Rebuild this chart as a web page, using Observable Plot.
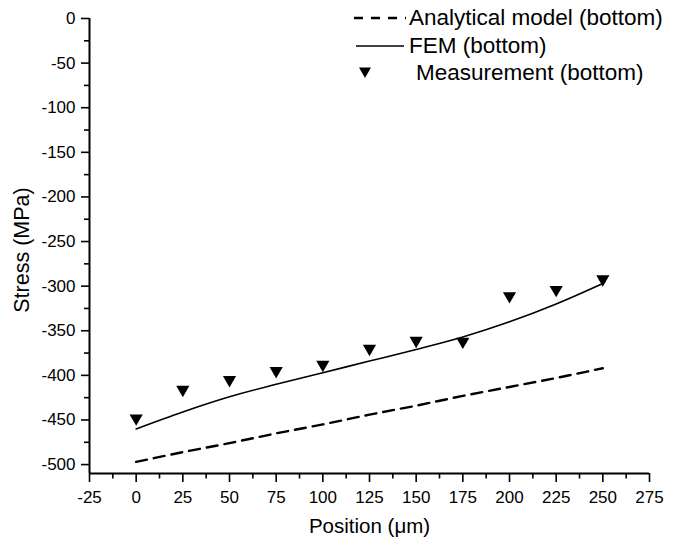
<!DOCTYPE html>
<html>
<head>
<meta charset="utf-8">
<script src="https://cdn.jsdelivr.net/npm/d3@7"></script>
<script src="https://cdn.jsdelivr.net/npm/@observablehq/plot@0.6"></script>
<style>
  html, body { margin: 0; padding: 0; background: #fff; }
  #wrap { position: relative; width: 679px; height: 544px; font-family: "Liberation Sans", Arial, sans-serif; }
  #legend { position: absolute; left: 0; top: 0; width: 679px; height: 100px; pointer-events: none; }
  .row { position: absolute; display: flex; align-items: center; font-size: 22.5px; color: #000; white-space: nowrap; }
</style>
</head>
<body>
<div id="wrap"></div>
<script>
const positions = [0, 25, 50, 75, 100, 125, 150, 175, 200, 225, 250];
const measurement = [-448, -416, -405, -395, -388, -370, -361, -362, -311, -304, -292];
const fem = [-460, -441, -424, -410, -397, -384, -371, -357, -340, -320, -297];
const analytical = [-497, -486, -476, -465, -455, -444, -434, -423, -413, -403, -392];
const xTicks = [-25, 0, 25, 50, 75, 100, 125, 150, 175, 200, 225, 250, 275];
const xMinor = [-12.5, 12.5, 37.5, 62.5, 87.5, 112.5, 137.5, 162.5, 187.5, 212.5, 237.5, 262.5];
const yTicks = [0, -50, -100, -150, -200, -250, -300, -350, -400, -450, -500];
const yMinor = [-25, -75, -125, -175, -225, -275, -325, -375, -425, -475];
const seriesNames = ["Analytical model (bottom)", "FEM (bottom)", "Measurement (bottom)"];

const rowsOf = (vals) => positions.map((p, i) => ({x: p, y: vals[i]}));

const font = "Liberation Sans, Arial, sans-serif";
const chart = Plot.plot({
  width: 679,
  height: 544,
  marginLeft: 89,
  marginRight: 30,
  marginTop: 18,
  marginBottom: 71,
  style: {fontFamily: font, fontSize: "17px", color: "#000", background: "#fff"},
  x: {domain: [-25, 275]},
  y: {domain: [-510, 0]},
  marks: [
    Plot.axisX(xTicks, {tickSize: 9, strokeWidth: 1.6, tickPadding: 8, tickFormat: d => String(d), label: null, fontSize: 17}),
    Plot.axisX(xMinor, {tickSize: 5.5, strokeWidth: 1.6, tickFormat: () => "", label: null}),
    Plot.axisY(yTicks, {tickSize: 8, strokeWidth: 1.6, tickPadding: 6, tickFormat: d => String(d), label: null, fontSize: 17}),
    Plot.axisY(yMinor, {tickSize: 5, strokeWidth: 1.6, tickFormat: () => "", label: null}),
    Plot.ruleY([-510], {x1: -25, x2: 275, strokeWidth: 2}),
    Plot.ruleX([-25], {y1: -510, y2: 0, strokeWidth: 2}),
    Plot.line(rowsOf(analytical), {x: "x", y: "y", stroke: "#000", strokeWidth: 2.4, strokeDasharray: "11,7"}),
    Plot.line(rowsOf(fem), {x: "x", y: "y", stroke: "#000", strokeWidth: 1.6, curve: "catmull-rom"}),
    Plot.dot(rowsOf(measurement), {x: "x", y: "y", symbol: "triangle", rotate: 180, r: 4.9, fill: "#000", stroke: "none"}),
    Plot.text(["Position (\u03bcm)"], {frameAnchor: "bottom", dy: 59, fontSize: 20.5, fill: "#000"}),
    Plot.text(["Stress (MPa)"], {frameAnchor: "left", textAnchor: "middle", dx: -67, dy: 4, rotate: -90, fontSize: 21.5, fill: "#000"})
  ]
});

const wrap = document.getElementById("wrap");
wrap.appendChild(chart);

// legend overlay
const legend = document.createElement("div");
legend.id = "legend";
const rowsSpec = [
  {name: seriesNames[0], top: 18, kind: "dash", textLeft: 409},
  {name: seriesNames[1], top: 46, kind: "solid", textLeft: 409},
  {name: seriesNames[2], top: 73, kind: "tri", textLeft: 416}
];
for (const r of rowsSpec) {
  const ns = "http://www.w3.org/2000/svg";
  const svg = document.createElementNS(ns, "svg");
  svg.setAttribute("width", 60);
  svg.setAttribute("height", 20);
  svg.style.position = "absolute";
  svg.style.left = "348px";
  svg.style.top = (r.top - 10) + "px";
  if (r.kind === "tri") {
    const p = document.createElementNS(ns, "path");
    p.setAttribute("d", "M11,4.5 L23,4.5 L17,15 Z");
    p.setAttribute("fill", "#000");
    svg.appendChild(p);
  } else {
    const l = document.createElementNS(ns, "line");
    l.setAttribute("x1", r.kind === "dash" ? 6 : 8);
    l.setAttribute("x2", r.kind === "dash" ? 58 : 56);
    l.setAttribute("y1", 10);
    l.setAttribute("y2", 10);
    l.setAttribute("stroke", "#000");
    l.setAttribute("stroke-width", r.kind === "dash" ? 2.4 : 1.6);
    if (r.kind === "dash") l.setAttribute("stroke-dasharray", "9,8");
    svg.appendChild(l);
  }
  legend.appendChild(svg);
  const t = document.createElement("div");
  t.className = "row";
  t.textContent = r.name;
  t.style.left = r.textLeft + "px";
  t.style.top = (r.top - 13) + "px";
  t.style.height = "26px";
  legend.appendChild(t);
}
wrap.appendChild(legend);
</script>
</body>
</html>
